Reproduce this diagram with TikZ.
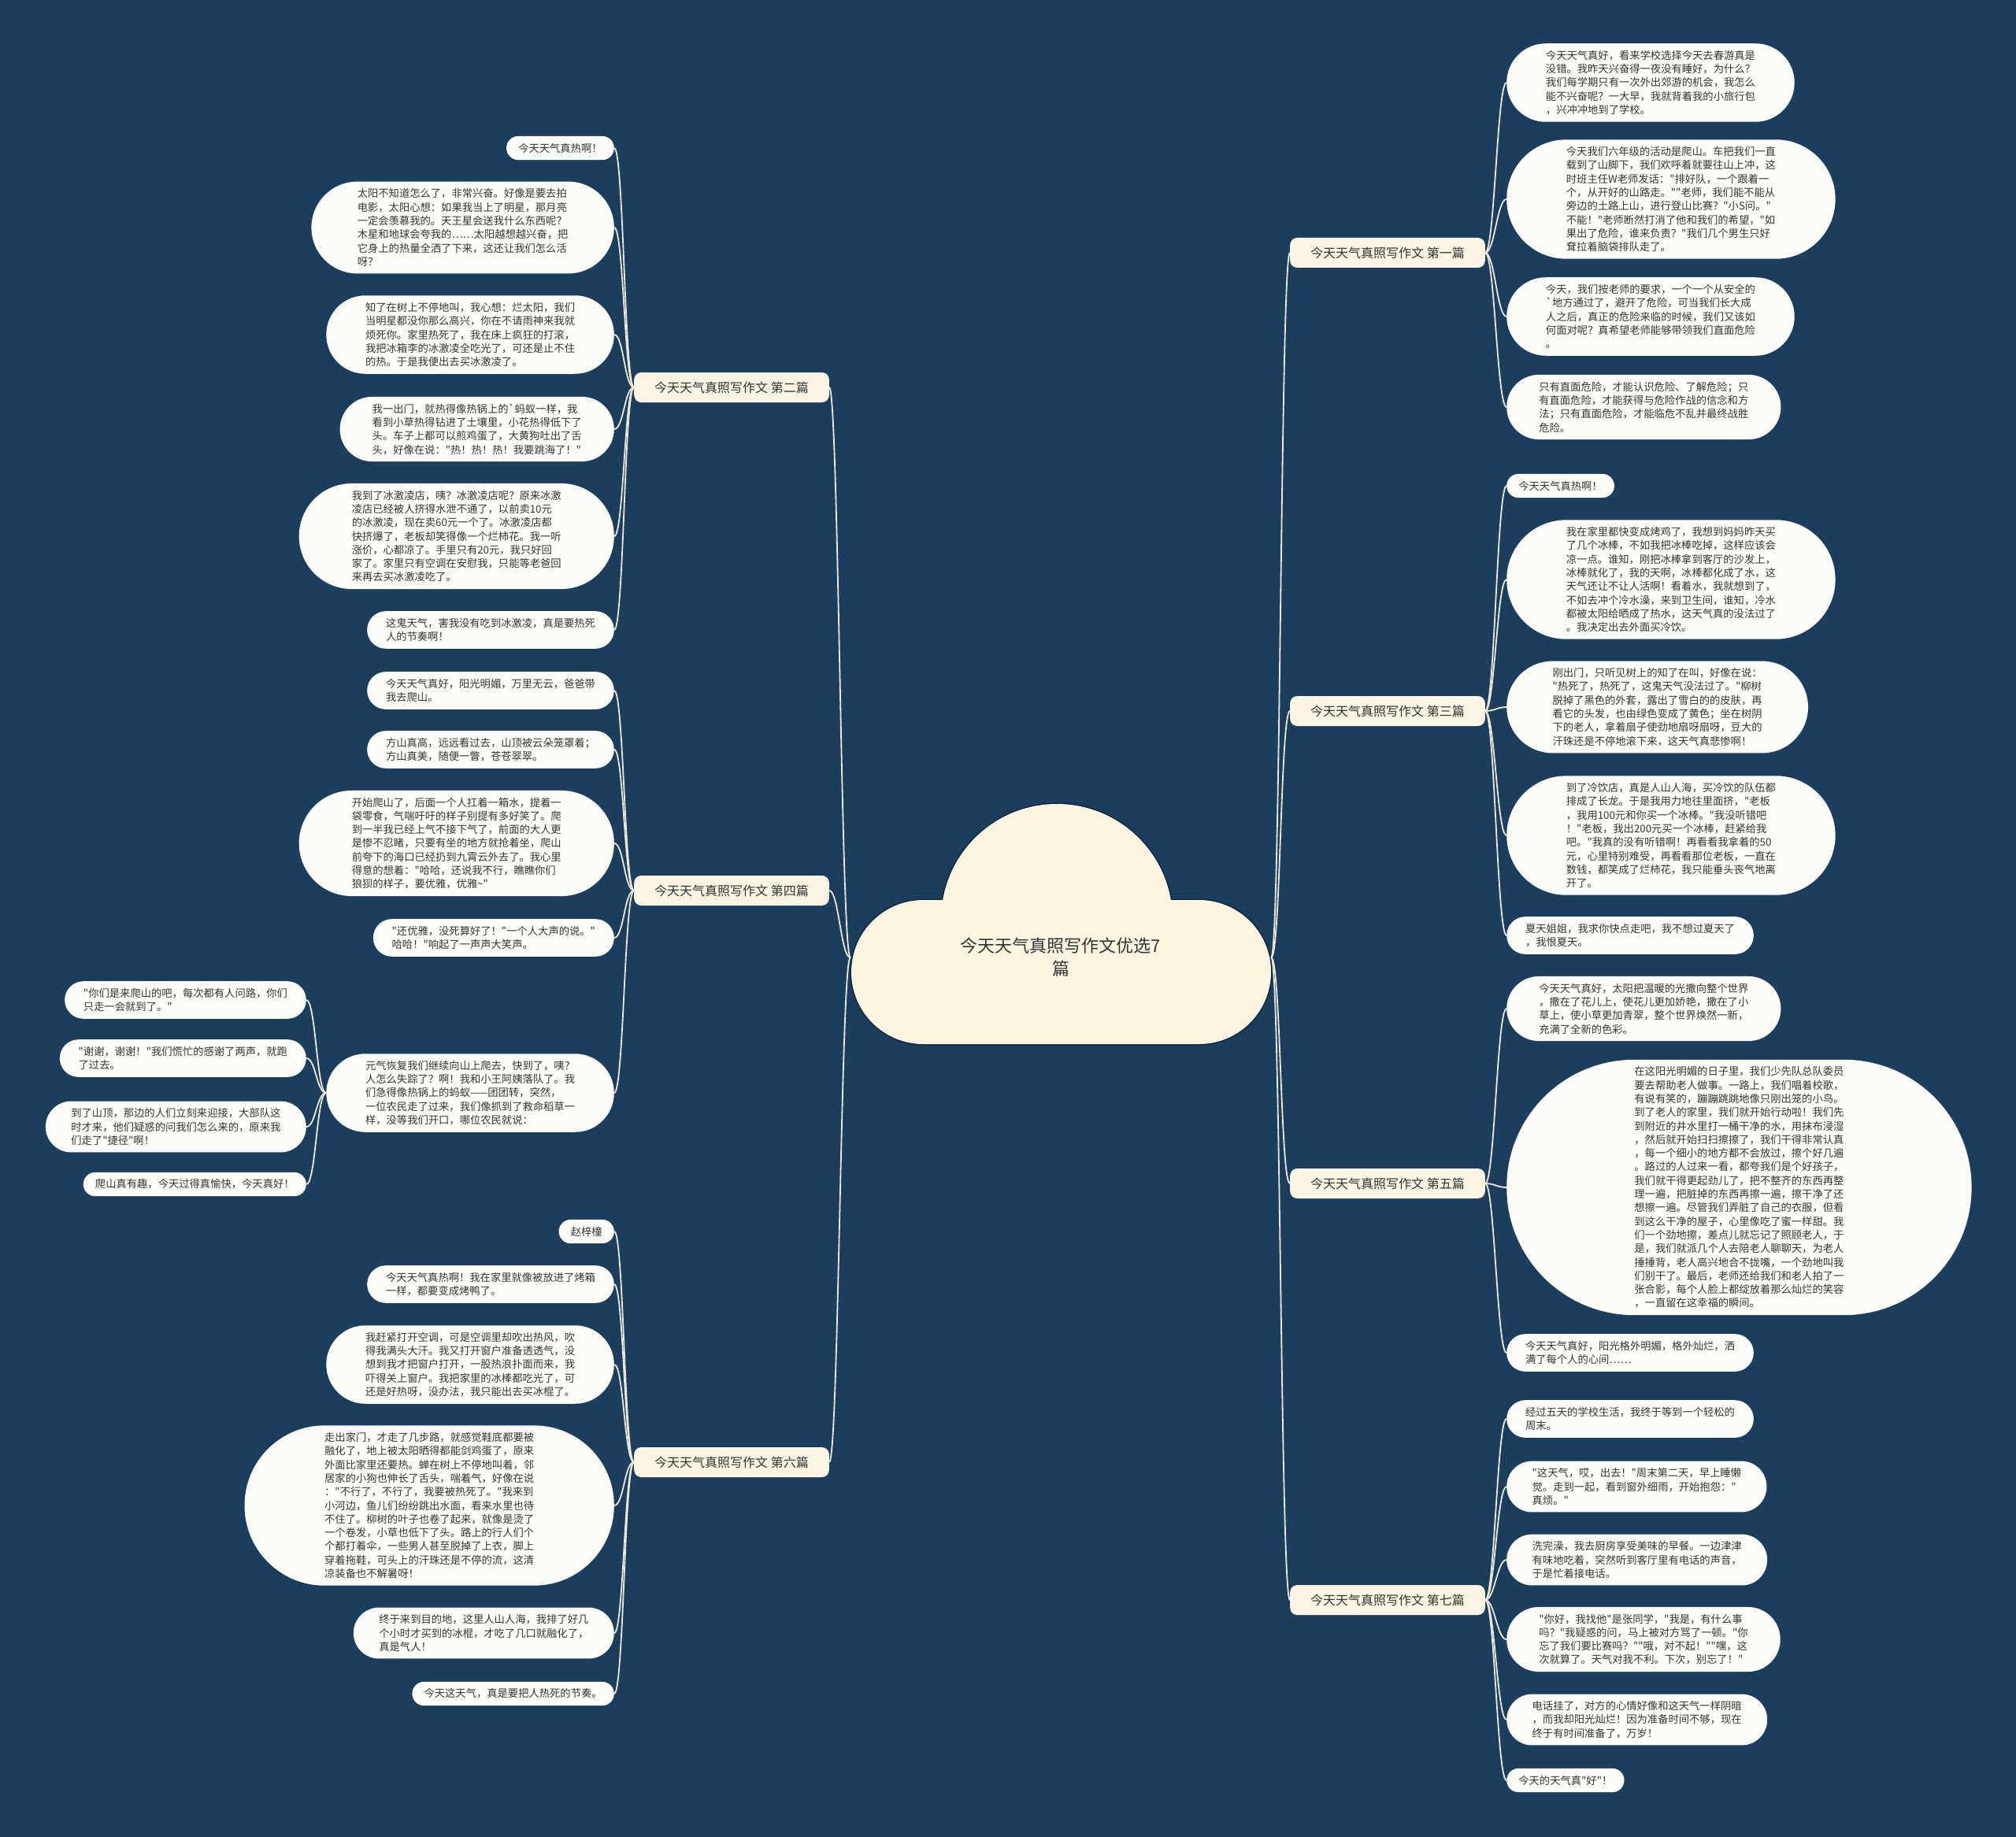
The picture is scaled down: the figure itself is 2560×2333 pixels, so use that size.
\documentclass[tikz,border=0pt]{standalone}
\usepackage{fontspec}
\newfontfamily\cjk{Noto Sans CJK SC}
\usepackage{tikz}
\usetikzlibrary{positioning}
\definecolor{bgnavy}{RGB}{27,62,95}
\definecolor{leafwhite}{RGB}{253,252,246}
\definecolor{branchcream}{RGB}{250,245,226}
\definecolor{cloudcream}{RGB}{250,244,224}
\definecolor{cloudedge}{RGB}{14,36,58}
\definecolor{linecream}{RGB}{238,232,212}
\definecolor{inkgray}{RGB}{51,51,51}

\begin{document}
\begin{tikzpicture}[x=1pt,y=-1pt,
  leaf/.style={rectangle,fill=leafwhite,inner xsep={8.65*#1+6.5},inner ysep=7pt,
    minimum height={17.3*#1+13},rounded corners={8.65*#1+6.4},
    align=left,text=inkgray,font=\cjk\fontsize{13.3}{17.3}\selectfont},
  branch/.style={rectangle,rounded corners=9pt,fill=branchcream,minimum height=38pt,
    inner xsep=26pt,text=inkgray,font=\cjk\fontsize{16}{19}\selectfont},
  roottext/.style={align=center,minimum width=534pt,text=inkgray,
    font=\cjk\fontsize{22}{29}\selectfont},
  edgeline/.style={draw=linecream,line width=1.8pt},
  rlink/.style={out=0,in=180,distance=12pt},
  llink/.style={out=180,in=0,distance=12pt}]
  \path[use as bounding box] (0,0) rectangle (2560,2333);
  \fill[bgnavy] (0,0) rectangle (2560,2333);

  % cloud
  \draw[cloudedge,line width=3pt,rounded corners=91.5pt] (1081,1143) rectangle (1614,1326);
  \draw[cloudedge,line width=3pt] (1342,1168) circle[radius=147];
  \fill[cloudcream,rounded corners=91.5pt] (1081,1143) rectangle (1614,1326);
  \fill[cloudcream] (1342,1168) circle[radius=147];
  \node[roottext] (root) at (1347,1216) {今天天气真照写作文优选7\\篇};

  % branches
  \node[branch,anchor=west] (b1) at (1638,321) {今天天气真照写作文 第一篇};
  \node[branch,anchor=west] (b3) at (1638,903) {今天天气真照写作文 第三篇};
  \node[branch,anchor=west] (b5) at (1638,1503) {今天天气真照写作文 第五篇};
  \node[branch,anchor=west] (b7) at (1638,2032) {今天天气真照写作文 第七篇};
  \node[branch,anchor=east] (b2) at (1053,492) {今天天气真照写作文 第二篇};
  \node[branch,anchor=east] (b4) at (1053,1131) {今天天气真照写作文 第四篇};
  \node[branch,anchor=east] (b6) at (1053,1857) {今天天气真照写作文 第六篇};

  % 第一篇
  \node[leaf=5,anchor=west] (r11) at (1913,105) {今天天气真好，看来学校选择今天去春游真是\\没错。我昨天兴奋得一夜没有睡好，为什么？\\我们每学期只有一次外出郊游的机会，我怎么\\能不兴奋呢？一大早，我就背着我的小旅行包\\，兴冲冲地到了学校。};
  \node[leaf=8,anchor=west] (r12) at (1913,253) {今天我们六年级的活动是爬山。车把我们一直\\载到了山脚下，我们欢呼着就要往山上冲，这\\时班主任W老师发话："排好队，一个跟着一\\个，从开好的山路走。""老师，我们能不能从\\旁边的土路上山，进行登山比赛？"小S问。"\\不能！"老师断然打消了他和我们的希望，"如\\果出了危险，谁来负责？"我们几个男生只好\\耷拉着脑袋排队走了。};
  \node[leaf=5,anchor=west] (r13) at (1913,402) {今天，我们按老师的要求，一个一个从安全的\\\symbol{96}地方通过了，避开了危险，可当我们长大成\\人之后，真正的危险来临的时候，我们又该如\\何面对呢？真希望老师能够带领我们直面危险\\。};
  \node[leaf=4,anchor=west] (r14) at (1913,517) {只有直面危险，才能认识危险、了解危险；只\\有直面危险，才能获得与危险作战的信念和方\\法；只有直面危险，才能临危不乱并最终战胜\\危险。};

  % 第三篇
  \node[leaf=1,anchor=west] (r31) at (1913,617) {今天天气真热啊！};
  \node[leaf=8,anchor=west] (r32) at (1913,736) {我在家里都快变成烤鸡了，我想到妈妈昨天买\\了几个冰棒，不如我把冰棒吃掉，这样应该会\\凉一点。谁知，刚把冰棒拿到客厅的沙发上，\\冰棒就化了，我的天啊，冰棒都化成了水，这\\天气还让不让人活啊！看着水，我就想到了，\\不如去冲个冷水澡，来到卫生间，谁知，冷水\\都被太阳给晒成了热水，这天气真的没法过了\\。我决定出去外面买冷饮。};
  \node[leaf=6,anchor=west] (r33) at (1913,898) {刚出门，只听见树上的知了在叫，好像在说：\\"热死了，热死了，这鬼天气没法过了。"柳树\\脱掉了黑色的外套，露出了雪白的的皮肤，再\\看它的头发，也由绿色变成了黄色；坐在树阴\\下的老人，拿着扇子使劲地扇呀扇呀，豆大的\\汗珠还是不停地滚下来，这天气真悲惨啊！};
  \node[leaf=8,anchor=west] (r34) at (1913,1061) {到了冷饮店，真是人山人海，买冷饮的队伍都\\排成了长龙。于是我用力地往里面挤，"老板\\，我用100元和你买一个冰棒。"我没听错吧\\！"老板，我出200元买一个冰棒，赶紧给我\\吧。"我真的没有听错啊！再看看我拿着的50\\元，心里特别难受，再看看那位老板，一直在\\数钱，都笑成了烂柿花，我只能垂头丧气地离\\开了。};
  \node[leaf=2,anchor=west] (r35) at (1913,1188) {夏天姐姐，我求你快点走吧，我不想过夏天了\\，我恨夏天。};

  % 第五篇
  \node[leaf=4,anchor=west] (r51) at (1913,1281) {今天天气真好，太阳把温暖的光撒向整个世界\\，撒在了花儿上，使花儿更加娇艳，撒在了小\\草上，使小草更加青翠，整个世界焕然一新，\\充满了全新的色彩。};
  \node[leaf=18,anchor=west] (r52) at (1913,1508) {在这阳光明媚的日子里，我们少先队总队委员\\要去帮助老人做事。一路上，我们唱着校歌，\\有说有笑的，蹦蹦跳跳地像只刚出笼的小鸟。\\到了老人的家里，我们就开始行动啦！我们先\\到附近的井水里打一桶干净的水，用抹布浸湿\\，然后就开始扫扫擦擦了，我们干得非常认真\\，每一个细小的地方都不会放过，擦个好几遍\\。路过的人过来一看，都夸我们是个好孩子，\\我们就干得更起劲儿了，把不整齐的东西再整\\理一遍，把脏掉的东西再擦一遍，擦干净了还\\想擦一遍。尽管我们弄脏了自己的衣服，但看\\到这么干净的屋子，心里像吃了蜜一样甜。我\\们一个劲地擦，差点儿就忘记了照顾老人，于\\是，我们就派几个人去陪老人聊聊天，为老人\\捶捶背，老人高兴地合不拢嘴，一个劲地叫我\\们别干了。最后，老师还给我们和老人拍了一\\张合影，每个人脸上都绽放着那么灿烂的笑容\\，一直留在这幸福的瞬间。};
  \node[leaf=2,anchor=west] (r53) at (1913,1718) {今天天气真好，阳光格外明媚，格外灿烂，洒\\满了每个人的心间……};

  % 第七篇
  \node[leaf=2,anchor=west] (r71) at (1913,1802) {经过五天的学校生活，我终于等到一个轻松的\\周末。};
  \node[leaf=3,anchor=west] (r72) at (1913,1888) {"这天气，哎，出去！"周末第二天，早上睡懒\\觉。走到一起，看到窗外细雨，开始抱怨："\\真烦。"};
  \node[leaf=3,anchor=west] (r73) at (1913,1981) {洗完澡，我去厨房享受美味的早餐。一边津津\\有味地吃着，突然听到客厅里有电话的声音，\\于是忙着接电话。};
  \node[leaf=4,anchor=west] (r74) at (1913,2082) {"你好，我找他"是张同学，"我是，有什么事\\吗？"我疑惑的问，马上被对方骂了一顿。"你\\忘了我们要比赛吗？""哦，对不起！""嘿，这\\次就算了。天气对我不利。下次，别忘了！"};
  \node[leaf=3,anchor=west] (r75) at (1913,2184) {电话挂了，对方的心情好像和这天气一样阴暗\\，而我却阳光灿烂！因为准备时间不够，现在\\终于有时间准备了，万岁！};
  \node[leaf=1,anchor=west] (r76) at (1913,2261) {今天的天气真"好"！};

  % 第二篇
  \node[leaf=1,anchor=east] (l21) at (780,188) {今天天气真热啊！};
  \node[leaf=6,anchor=east] (l22) at (780,289) {太阳不知道怎么了，非常兴奋。好像是要去拍\\电影，太阳心想：如果我当上了明星，那月亮\\一定会羡慕我的。天王星会送我什么东西呢？\\木星和地球会夸我的……太阳越想越兴奋，把\\它身上的热量全洒了下来，这还让我们怎么活\\呀？};
  \node[leaf=5,anchor=east] (l23) at (780,425) {知了在树上不停地叫，我心想：烂太阳，我们\\当明星都没你那么高兴，你在不请雨神来我就\\烦死你。家里热死了，我在床上疯狂的打滚，\\我把冰箱李的冰激凌全吃光了，可还是止不住\\的热。于是我便出去买冰激凌了。};
  \node[leaf=4,anchor=east] (l24) at (780,545) {我一出门，就热得像热锅上的\symbol{96}蚂蚁一样，我\\看到小草热得钻进了土壤里，小花热得低下了\\头。车子上都可以煎鸡蛋了，大黄狗吐出了舌\\头，好像在说："热！热！热！我要跳海了！"};
  \node[leaf=7,anchor=east] (l25) at (780,681) {我到了冰激凌店，咦？冰激凌店呢？原来冰激\\凌店已经被人挤得水泄不通了，以前卖10元\\的冰激凌，现在卖60元一个了。冰激凌店都\\快挤爆了，老板却笑得像一个烂柿花。我一听\\涨价，心都凉了。手里只有20元，我只好回\\家了。家里只有空调在安慰我，只能等老爸回\\来再去买冰激凌吃了。};
  \node[leaf=2,anchor=east] (l26) at (780,800) {这鬼天气，害我没有吃到冰激凌，真是要热死\\人的节奏啊！};

  % 第四篇
  \node[leaf=2,anchor=east] (l41) at (780,877) {今天天气真好，阳光明媚，万里无云，爸爸带\\我去爬山。};
  \node[leaf=2,anchor=east] (l42) at (780,952) {方山真高，远远看过去，山顶被云朵笼罩着；\\方山真美，随便一瞥，苍苍翠翠。};
  \node[leaf=7,anchor=east] (l43) at (780,1071) {开始爬山了，后面一个人扛着一箱水，提着一\\袋零食，气喘吁吁的样子别提有多好笑了。爬\\到一半我已经上气不接下气了，前面的大人更\\是惨不忍睹，只要有坐的地方就抢着坐，爬山\\前夸下的海口已经扔到九霄云外去了。我心里\\得意的想着："哈哈，还说我不行，瞧瞧你们\\狼狈的样子，要优雅，优雅\textasciitilde"};
  \node[leaf=2,anchor=east] (l44) at (780,1191) {"还优雅，没死算好了！"一个人大声的说。"\\哈哈！"响起了一声声大笑声。};
  \node[leaf=5,anchor=east] (l45) at (780,1388) {元气恢复我们继续向山上爬去，快到了，咦？\\人怎么失踪了？啊！我和小王阿姨落队了。我\\们急得像热锅上的蚂蚁——团团转，突然，\\一位农民走了过来，我们像抓到了救命稻草一\\样，没等我们开口，哪位农民就说：};
  \node[leaf=2,anchor=east] (l451) at (389,1270) {"你们是来爬山的吧，每次都有人问路，你们\\只走一会就到了。"};
  \node[leaf=2,anchor=east] (l452) at (389,1344) {"谢谢，谢谢！"我们慌忙的感谢了两声，就跑\\了过去。};
  \node[leaf=3,anchor=east] (l453) at (389,1431) {到了山顶，那边的人们立刻来迎接，大部队这\\时才来，他们疑惑的问我们怎么来的，原来我\\们走了"捷径"啊！};
  \node[leaf=1,anchor=east] (l454) at (389,1504) {爬山真有趣，今天过得真愉快，今天真好！};

  % 第六篇
  \node[leaf=1,anchor=east] (l61) at (780,1564) {赵梓橦};
  \node[leaf=2,anchor=east] (l62) at (780,1631) {今天天气真热啊！我在家里就像被放进了烤箱\\一样，都要变成烤鸭了。};
  \node[leaf=5,anchor=east] (l63) at (780,1733) {我赶紧打开空调，可是空调里却吹出热风，吹\\得我满头大汗。我又打开窗户准备透透气，没\\想到我才把窗户打开，一股热浪扑面而来，我\\吓得关上窗户。我把家里的冰棒都吃光了，可\\还是好热呀，没办法，我只能出去买冰棍了。};
  \node[leaf=11,anchor=east] (l64) at (780,1912) {走出家门，才走了几步路，就感觉鞋底都要被\\融化了，地上被太阳晒得都能剑鸡蛋了，原来\\外面比家里还要热。蝉在树上不停地叫着，邻\\居家的小狗也伸长了舌头，喘着气，好像在说\\："不行了，不行了，我要被热死了。"我来到\\小河边，鱼儿们纷纷跳出水面，看来水里也待\\不住了。柳树的叶子也卷了起来，就像是烫了\\一个卷发，小草也低下了头。路上的行人们个\\个都打着伞，一些男人甚至脱掉了上衣，脚上\\穿着拖鞋，可头上的汗珠还是不停的流，这清\\凉装备也不解暑呀！};
  \node[leaf=3,anchor=east] (l65) at (780,2074) {终于来到目的地，这里人山人海，我排了好几\\个小时才买到的冰棍，才吃了几口就融化了，\\真是气人！};
  \node[leaf=1,anchor=east] (l66) at (780,2151) {今天这天气，真是要把人热死的节奏。};

  % connectors
  \draw[edgeline] (root.east) to[rlink] (b1.west);
  \draw[edgeline] (root.east) to[rlink] (b3.west);
  \draw[edgeline] (root.east) to[rlink] (b5.west);
  \draw[edgeline] (root.east) to[rlink] (b7.west);
  \draw[edgeline] (root.west) to[llink] (b2.east);
  \draw[edgeline] (root.west) to[llink] (b4.east);
  \draw[edgeline] (root.west) to[llink] (b6.east);

  \draw[edgeline] (b1.east) to[rlink] (r11.west);
  \draw[edgeline] (b1.east) to[rlink] (r12.west);
  \draw[edgeline] (b1.east) to[rlink] (r13.west);
  \draw[edgeline] (b1.east) to[rlink] (r14.west);
  \draw[edgeline] (b3.east) to[rlink] (r31.west);
  \draw[edgeline] (b3.east) to[rlink] (r32.west);
  \draw[edgeline] (b3.east) to[rlink] (r33.west);
  \draw[edgeline] (b3.east) to[rlink] (r34.west);
  \draw[edgeline] (b3.east) to[rlink] (r35.west);
  \draw[edgeline] (b5.east) to[rlink] (r51.west);
  \draw[edgeline] (b5.east) to[rlink] (r52.west);
  \draw[edgeline] (b5.east) to[rlink] (r53.west);
  \draw[edgeline] (b7.east) to[rlink] (r71.west);
  \draw[edgeline] (b7.east) to[rlink] (r72.west);
  \draw[edgeline] (b7.east) to[rlink] (r73.west);
  \draw[edgeline] (b7.east) to[rlink] (r74.west);
  \draw[edgeline] (b7.east) to[rlink] (r75.west);
  \draw[edgeline] (b7.east) to[rlink] (r76.west);

  \draw[edgeline] (b2.west) to[llink] (l21.east);
  \draw[edgeline] (b2.west) to[llink] (l22.east);
  \draw[edgeline] (b2.west) to[llink] (l23.east);
  \draw[edgeline] (b2.west) to[llink] (l24.east);
  \draw[edgeline] (b2.west) to[llink] (l25.east);
  \draw[edgeline] (b2.west) to[llink] (l26.east);
  \draw[edgeline] (b4.west) to[llink] (l41.east);
  \draw[edgeline] (b4.west) to[llink] (l42.east);
  \draw[edgeline] (b4.west) to[llink] (l43.east);
  \draw[edgeline] (b4.west) to[llink] (l44.east);
  \draw[edgeline] (b4.west) to[llink] (l45.east);
  \draw[edgeline] (l45.west) to[llink] (l451.east);
  \draw[edgeline] (l45.west) to[llink] (l452.east);
  \draw[edgeline] (l45.west) to[llink] (l453.east);
  \draw[edgeline] (l45.west) to[llink] (l454.east);
  \draw[edgeline] (b6.west) to[llink] (l61.east);
  \draw[edgeline] (b6.west) to[llink] (l62.east);
  \draw[edgeline] (b6.west) to[llink] (l63.east);
  \draw[edgeline] (b6.west) to[llink] (l64.east);
  \draw[edgeline] (b6.west) to[llink] (l65.east);
  \draw[edgeline] (b6.west) to[llink] (l66.east);
\end{tikzpicture}
\end{document}
